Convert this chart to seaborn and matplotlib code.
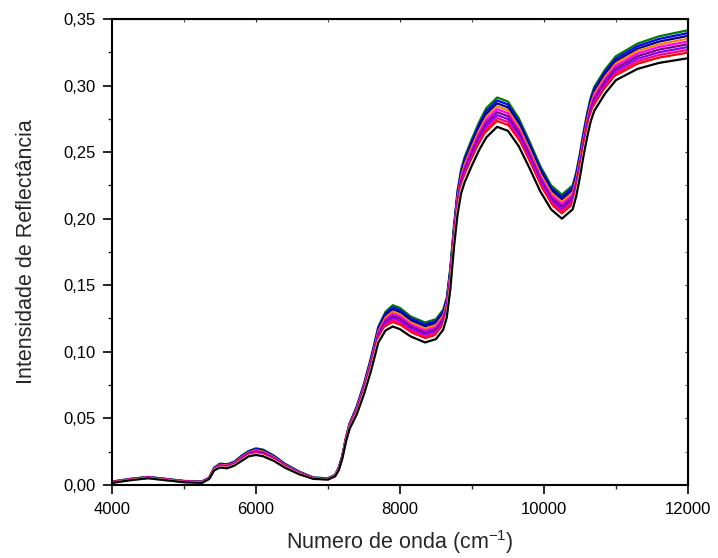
import numpy as np
import pandas as pd
import matplotlib
matplotlib.use("Agg")
import matplotlib.pyplot as plt
from matplotlib.ticker import MultipleLocator, FuncFormatter
import seaborn as sns

# Wavenumber grid (cm-1)
wavenumber = [4000, 4250, 4500, 4750, 5000, 5250, 5350, 5420, 5500, 5600,
              5700, 5800, 5900, 6000, 6100, 6250, 6400, 6600, 6800, 7000,
              7100, 7150, 7200, 7250, 7300, 7400, 7500, 7600, 7700, 7800,
              7900, 8000, 8150, 8350, 8500, 8600, 8650, 8700, 8750, 8800,
              8850, 8900, 9000, 9100, 9200, 9350, 9500, 9650, 9800, 9950,
              10100, 10250, 10400, 10450, 10500, 10550, 10600, 10650, 10700, 10850,
              11000, 11300, 11600, 12000]

# Reflectance of each sample, in units of 1e-3
sample_01 = [2.5, 4.5, 6.0, 4.5, 3.0, 2.5, 5.5, 13.0, 16.0, 15.5,
             17.5, 22.0, 25.5, 27.5, 26.5, 22.0, 16.0, 10.0, 5.5, 5.0,
             7.5, 13.0, 22.0, 35.5, 46.0, 59.0, 76.0, 96.0, 119.0, 130.0,
             135.0, 133.0, 126.5, 122.0, 124.5, 131.5, 140.5, 163.0, 194.0, 221.0,
             237.0, 246.5, 260.0, 272.5, 283.0, 291.0, 288.0, 275.5, 258.0, 239.5,
             225.0, 218.0, 225.0, 235.0, 249.0, 265.0, 279.0, 291.0, 299.0, 312.0,
             322.0, 331.5, 337.0, 341.5]
sample_02 = [2.4, 4.4, 5.9, 4.4, 2.9, 2.4, 5.4, 12.8, 15.7, 15.2,
             17.2, 21.6, 25.1, 27.0, 26.0, 21.6, 15.7, 9.8, 5.4, 4.9,
             7.4, 12.8, 21.8, 35.2, 45.6, 58.4, 75.2, 95.0, 117.8, 128.6,
             133.4, 131.4, 125.0, 120.5, 123.0, 130.0, 139.0, 161.4, 192.4, 219.2,
             235.2, 244.6, 258.0, 270.4, 280.8, 288.8, 285.8, 273.4, 256.0, 237.6,
             223.2, 216.2, 223.2, 233.2, 247.2, 263.2, 277.2, 289.2, 297.2, 310.2,
             320.2, 329.6, 335.0, 339.4]
sample_03 = [2.3, 4.3, 5.8, 4.3, 2.8, 2.3, 5.3, 12.6, 15.4, 14.9,
             16.9, 21.2, 24.7, 26.5, 25.5, 21.2, 15.4, 9.6, 5.3, 4.8,
             7.3, 12.6, 21.6, 34.9, 45.2, 57.8, 74.4, 94.0, 116.6, 127.2,
             131.8, 129.8, 123.5, 119.0, 121.5, 128.5, 137.5, 159.8, 190.8, 217.4,
             233.4, 242.7, 256.0, 268.3, 278.6, 286.6, 283.6, 271.3, 254.0, 235.7,
             221.4, 214.4, 221.4, 231.4, 245.4, 261.4, 275.4, 287.4, 295.4, 308.4,
             318.4, 327.7, 333.0, 337.3]
sample_04 = [2.2, 4.2, 5.7, 4.2, 2.7, 2.2, 5.2, 12.4, 15.1, 14.6,
             16.6, 20.8, 24.3, 26.0, 25.0, 20.8, 15.1, 9.4, 5.2, 4.7,
             7.2, 12.4, 21.4, 34.6, 44.8, 57.2, 73.6, 93.0, 115.4, 125.8,
             130.2, 128.2, 122.0, 117.5, 120.0, 127.0, 136.0, 158.2, 189.2, 215.6,
             231.6, 240.8, 254.0, 266.2, 276.4, 284.4, 281.4, 269.2, 252.0, 233.8,
             219.6, 212.6, 219.6, 229.6, 243.6, 259.6, 273.6, 285.6, 293.6, 306.6,
             316.6, 325.8, 331.0, 335.2]
sample_05 = [2.1, 4.1, 5.6, 4.1, 2.6, 2.1, 5.1, 12.2, 14.8, 14.3,
             16.3, 20.4, 23.9, 25.5, 24.5, 20.4, 14.8, 9.2, 5.1, 4.6,
             7.1, 12.2, 21.2, 34.3, 44.4, 56.6, 72.8, 92.0, 114.2, 124.4,
             128.6, 126.6, 120.5, 116.0, 118.5, 125.5, 134.5, 156.6, 187.6, 213.8,
             229.8, 238.9, 252.0, 264.1, 274.2, 282.2, 279.2, 267.1, 250.0, 231.9,
             217.8, 210.8, 217.8, 227.8, 241.8, 257.8, 271.8, 283.8, 291.8, 304.8,
             314.8, 323.9, 329.0, 333.1]
sample_06 = [2.0, 4.0, 5.5, 4.0, 2.5, 2.0, 5.0, 12.0, 14.5, 14.0,
             16.0, 20.0, 23.5, 25.0, 24.0, 20.0, 14.5, 9.0, 5.0, 4.5,
             7.0, 12.0, 21.0, 34.0, 44.0, 56.0, 72.0, 91.0, 113.0, 123.0,
             127.0, 125.0, 119.0, 114.5, 117.0, 124.0, 133.0, 155.0, 186.0, 212.0,
             228.0, 237.0, 250.0, 262.0, 272.0, 280.0, 277.0, 265.0, 248.0, 230.0,
             216.0, 209.0, 216.0, 226.0, 240.0, 256.0, 270.0, 282.0, 290.0, 303.0,
             313.0, 322.0, 327.0, 331.0]
sample_07 = [1.9, 3.9, 5.4, 3.9, 2.4, 1.9, 4.9, 11.8, 14.2, 13.7,
             15.7, 19.6, 23.1, 24.5, 23.5, 19.6, 14.2, 8.8, 4.9, 4.4,
             6.9, 11.8, 20.8, 33.7, 43.6, 55.4, 71.2, 90.0, 111.8, 121.6,
             125.4, 123.4, 117.5, 113.0, 115.5, 122.5, 131.5, 153.4, 184.4, 210.2,
             226.2, 235.1, 248.0, 259.9, 269.8, 277.8, 274.8, 262.9, 246.0, 228.1,
             214.2, 207.2, 214.2, 224.2, 238.2, 254.2, 268.2, 280.2, 288.2, 301.2,
             311.2, 320.1, 325.0, 328.9]
sample_08 = [1.8, 3.8, 5.3, 3.8, 2.3, 1.8, 4.8, 11.6, 13.9, 13.4,
             15.4, 19.2, 22.7, 24.0, 23.0, 19.2, 13.9, 8.6, 4.8, 4.3,
             6.8, 11.6, 20.6, 33.4, 43.2, 54.8, 70.4, 89.0, 110.6, 120.2,
             123.8, 121.8, 116.0, 111.5, 114.0, 121.0, 130.0, 151.8, 182.8, 208.4,
             224.4, 233.2, 246.0, 257.8, 267.6, 275.6, 272.6, 260.8, 244.0, 226.2,
             212.4, 205.4, 212.4, 222.4, 236.4, 252.4, 266.4, 278.4, 286.4, 299.4,
             309.4, 318.2, 323.0, 326.8]
sample_09 = [1.7, 3.7, 5.2, 3.7, 2.2, 1.7, 4.7, 11.4, 13.6, 13.1,
             15.1, 18.8, 22.3, 23.5, 22.5, 18.8, 13.6, 8.4, 4.7, 4.2,
             6.7, 11.4, 20.4, 33.1, 42.8, 54.2, 69.6, 88.0, 109.4, 118.8,
             122.2, 120.2, 114.5, 110.0, 112.5, 119.5, 128.5, 150.2, 181.2, 206.6,
             222.6, 231.3, 244.0, 255.7, 265.4, 273.4, 270.4, 258.7, 242.0, 224.3,
             210.6, 203.6, 210.6, 220.6, 234.6, 250.6, 264.6, 276.6, 284.6, 297.6,
             307.6, 316.3, 321.0, 324.7]
sample_10 = [1.6, 3.6, 5.1, 3.6, 2.1, 1.6, 4.6, 11.2, 13.3, 12.8,
             14.8, 18.4, 21.9, 23.0, 22.0, 18.4, 13.3, 8.2, 4.6, 4.1,
             6.6, 11.2, 20.2, 32.8, 42.4, 53.6, 68.8, 87.0, 108.2, 117.4,
             120.6, 118.6, 113.0, 108.5, 111.0, 118.0, 127.0, 148.6, 179.6, 204.8,
             220.8, 229.4, 242.0, 253.6, 263.2, 271.2, 268.2, 256.6, 240.0, 222.4,
             208.8, 201.8, 208.8, 218.8, 232.8, 248.8, 262.8, 274.8, 282.8, 295.8,
             305.8, 314.4, 319.0, 322.6]
sample_11 = [1.5, 3.5, 5.0, 3.5, 2.0, 1.5, 4.5, 11.0, 13.0, 12.5,
             14.5, 18.0, 21.5, 22.5, 21.5, 18.0, 13.0, 8.0, 4.5, 4.0,
             6.5, 11.0, 20.0, 32.5, 42.0, 53.0, 68.0, 86.0, 107.0, 116.0,
             119.0, 117.0, 111.5, 107.0, 109.5, 116.5, 125.5, 147.0, 178.0, 203.0,
             219.0, 227.5, 240.0, 251.5, 261.0, 269.0, 266.0, 254.5, 238.0, 220.5,
             207.0, 200.0, 207.0, 217.0, 231.0, 247.0, 261.0, 273.0, 281.0, 294.0,
             304.0, 312.5, 317.0, 320.5]

samples = {"A01": sample_01, "A02": sample_02, "A03": sample_03, "A04": sample_04,
           "A05": sample_05, "A06": sample_06, "A07": sample_07, "A08": sample_08,
           "A09": sample_09, "A10": sample_10, "A11": sample_11}

sample_colors = ["#007a00", "#0000ff", "#000080", "#ff8000", "#ff00ff", "#800080",
                 "#8000ff", "#ff0080", "#ff0000", "#ffffff", "#000000"]

x_ticks = [4000, 6000, 8000, 10000, 12000]
y_ticks = [0.00, 0.05, 0.10, 0.15, 0.20, 0.25, 0.30, 0.35]

rows = []
for name, vals in samples.items():
    for wn, v in zip(wavenumber, vals):
        rows.append({"wavenumber": wn, "reflectance": v / 1000.0, "sample": name})
df = pd.DataFrame(rows)

sns.set_style("ticks")
plt.rcParams["font.family"] = ["Liberation Sans", "DejaVu Sans"]
plt.rcParams["mathtext.fontset"] = "custom"
plt.rcParams["mathtext.rm"] = "Liberation Sans"

fig = plt.figure(figsize=(7.18, 5.58), dpi=100)
ax = fig.add_axes([0.156, 0.131, 0.802, 0.835])

sns.lineplot(data=df, x="wavenumber", y="reflectance", hue="sample",
             palette=sample_colors, linewidth=1.6, legend=False, ax=ax,
             estimator=None, sort=False)

ax.set_xlim(4000, 12000)
ax.set_ylim(0, 0.35)
ax.set_xticks(x_ticks)
ax.set_yticks(y_ticks)
ax.xaxis.set_minor_locator(MultipleLocator(1000))
ax.yaxis.set_minor_locator(MultipleLocator(0.025))
ax.yaxis.set_major_formatter(FuncFormatter(lambda v, p: f"{v:.2f}".replace(".", ",")))
ax.xaxis.set_major_formatter(FuncFormatter(lambda v, p: f"{int(round(v))}"))

ax.tick_params(which="major", direction="out", length=6.5, width=1.2,
               labelsize=12, colors="black")
ax.tick_params(axis="x", which="major", pad=6)
ax.tick_params(axis="y", which="major", pad=5)
ax.tick_params(which="minor", direction="out", length=3.2, width=1.0)

for s in ax.spines.values():
    s.set_linewidth(1.5)
    s.set_color("black")
    s.set_visible(True)

top = ax.secondary_xaxis("top")
top.set_xticks(x_ticks)
top.xaxis.set_minor_locator(MultipleLocator(1000))
top.tick_params(which="both", direction="in", length=2, labeltop=False)
top.set_xticklabels([])
right = ax.secondary_yaxis("right")
right.set_yticks(y_ticks)
right.yaxis.set_minor_locator(MultipleLocator(0.025))
right.tick_params(which="both", direction="in", length=2, labelright=False)
right.set_yticklabels([])

ax.set_xlabel(r"Numero de onda (cm$^{\mathregular{-1}}$)", fontsize=15.5, labelpad=8)
ax.set_ylabel("Intensidade de Reflectância", fontsize=15.5, labelpad=19)

fig.savefig("out.png", dpi=100)
